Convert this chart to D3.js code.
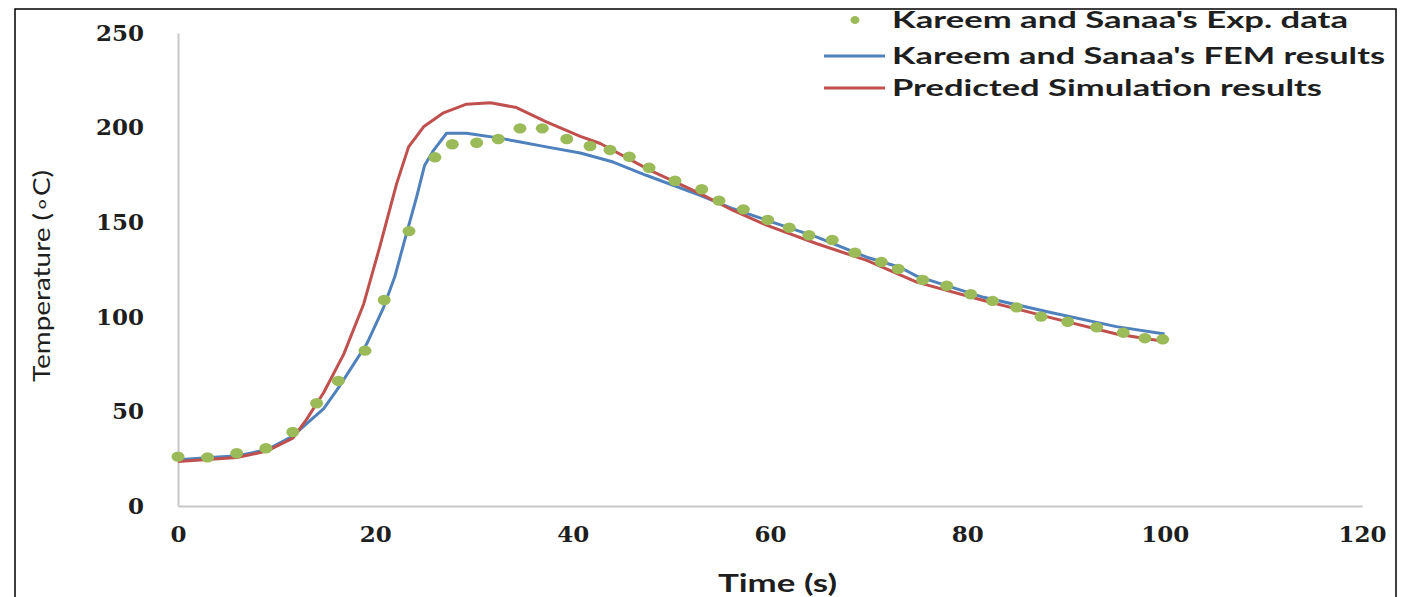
<!DOCTYPE html>
<html>
<head>
<meta charset="utf-8">
<script src="https://cdn.jsdelivr.net/npm/d3@7/dist/d3.min.js"></script>
<style>
html,body{margin:0;padding:0;background:#fff;}
svg{display:block;}
</style>
</head>
<body>
<svg id="chart" width="1409" height="597"></svg>
<script>
// ---- data ----
const expTime = [0,3.0,5.95,8.91,11.63,14.05,16.25,18.95,20.9,23.41,26.04,27.8,30.27,32.46,34.66,36.92,39.4,41.76,43.78,45.74,47.74,50.37,53.08,54.83,57.3,59.77,61.95,63.95,66.31,68.61,71.28,73.0,75.48,77.91,80.34,82.56,84.99,87.47,90.17,93.11,95.8,98.0,99.8];
const expTemp = [26.1,25.7,27.9,30.5,39.1,54.3,66.1,82.1,108.9,145.3,184.3,191.2,192.0,194.0,199.6,199.6,194.0,190.3,188.2,184.6,178.8,171.9,167.4,161.4,156.8,151.2,147.1,143.1,140.6,133.9,129.0,125.3,119.5,116.4,111.9,108.4,105.0,100.1,97.4,94.5,91.6,88.7,88.1];

const femTime = [0,5.97,9.0,11.64,13.36,14.77,16.29,19.12,20.84,21.96,22.97,24.18,24.99,25.9,27.22,29.24,32.28,34.7,37.33,40.78,44.11,47.45,52.92,56.26,59.7,64.76,69.81,73.15,74.87,81.65,88.33,95.11,100];
const femTemp = [24.5,26.5,29.7,37,45,51.5,62.7,85.6,105,121,140.4,163.3,180,188,197,197,194.7,192.4,189.8,186.6,181.8,174.8,164.2,157.1,151,142.1,131.5,126.2,121.5,110.3,102.4,94.8,90.9];

const simTime = [0,5.97,9.0,11.64,13.05,14.77,16.8,18.82,20.44,22.16,23.37,24.89,26.91,29.24,31.67,34.3,37.33,40.78,42.8,47.86,52.92,56.26,59.7,64.76,69.81,74.87,81.65,88.33,95.11,100];
const simTemp = [23.5,25.6,29,35.9,45.9,60,80.3,106.8,136.8,170.4,189.8,200.4,207.8,212.4,213.1,210.6,203,195.4,191.6,177.4,165.1,156.2,148.3,138.6,129.8,118.3,108.6,99.7,90.9,87];

const xTicks = [0,20,40,60,80,100,120];
const yTicks = [0,50,100,150,200,250];
const seriesNames = ["Kareem and Sanaa's Exp. data","Kareem and Sanaa's FEM results","Predicted Simulation results"];
const xTitle = "Time (s)";
const yTitle = "Temperature (\u2218C)";

// ---- drawing ----
const svg = d3.select("#chart");
const C = {green:"#9bbb59", blue:"#4f81bd", red:"#c0504d", axis:"#c8c8c8", text:"#1e1e1e"};

const x = d3.scaleLinear().domain([0,120]).range([178,1362]);
const y = d3.scaleLinear().domain([0,250]).range([506,33]);

// outer border
svg.append("rect").attr("x",15).attr("y",9).attr("width",1381).attr("height",600)
  .attr("fill","none").attr("stroke","#000").attr("stroke-width",1.5);

// axes
const xAxis = svg.append("g").attr("transform",`translate(0,${y(0)})`)
  .call(d3.axisBottom(x).tickValues(xTicks).tickSize(0).tickPadding(22));
const yAxis = svg.append("g").attr("transform",`translate(${x(0)},0)`)
  .call(d3.axisLeft(y).tickValues(yTicks).tickSize(0).tickPadding(34));
[xAxis,yAxis].forEach(g=>{
  g.select(".domain").attr("stroke",C.axis).attr("stroke-width",2);
  g.selectAll("text").attr("font-family","'DejaVu Serif'").attr("font-weight","bold")
    .attr("font-size",23).attr("fill",C.text);
});
xAxis.selectAll(".tick text").attr("transform","translate(0,-2)");

// lines
const line = d3.line().x(d=>x(d[0])).y(d=>y(d[1])).curve(d3.curveLinear);
const fem = femTime.map((t,i)=>[t,femTemp[i]]);
const sim = simTime.map((t,i)=>[t,simTemp[i]]);
const exp = expTime.map((t,i)=>[t,expTemp[i]]);

svg.append("path").datum(fem).attr("d",line).attr("fill","none")
  .attr("stroke",C.blue).attr("stroke-width",3).attr("stroke-linejoin","round");
svg.append("path").datum(sim).attr("d",line).attr("fill","none")
  .attr("stroke",C.red).attr("stroke-width",3).attr("stroke-linejoin","round");
svg.append("g").selectAll("ellipse").data(exp).join("ellipse")
  .attr("cx",d=>x(d[0])).attr("cy",d=>y(d[1])).attr("rx",6.5).attr("ry",5.2)
  .attr("fill",C.green);

// legend
const leg = svg.append("g");
const rows = [20,56,88];
const lens = [456,493,430];
leg.append("ellipse").attr("cx",855).attr("cy",rows[0]).attr("rx",4.5).attr("ry",4).attr("fill",C.green);
leg.append("line").attr("x1",824).attr("x2",885).attr("y1",rows[1]).attr("y2",rows[1]).attr("stroke",C.blue).attr("stroke-width",3);
leg.append("line").attr("x1",824).attr("x2",885).attr("y1",rows[2]).attr("y2",rows[2]).attr("stroke",C.red).attr("stroke-width",3);
seriesNames.forEach((n,i)=>{
  leg.append("text").attr("x",892).attr("y",rows[i]).attr("dy","0.35em")
    .attr("font-family","Lato").attr("font-weight","bold").attr("font-size",22)
    .attr("fill",C.text).attr("textLength",lens[i]).attr("lengthAdjust","spacingAndGlyphs")
    .text(n);
});

// axis titles
svg.append("text").attr("x",777.5).attr("y",592).attr("text-anchor","middle")
  .attr("font-family","Lato").attr("font-weight","bold").attr("font-size",24)
  .attr("fill",C.text).attr("textLength",119).attr("lengthAdjust","spacingAndGlyphs")
  .text(xTitle);
svg.append("text").attr("transform","translate(50,276) rotate(-90)").attr("text-anchor","middle")
  .attr("font-family","Lato").attr("font-size",23)
  .attr("fill",C.text).attr("textLength",212).attr("lengthAdjust","spacingAndGlyphs")
  .text(yTitle);
</script>
</body>
</html>
